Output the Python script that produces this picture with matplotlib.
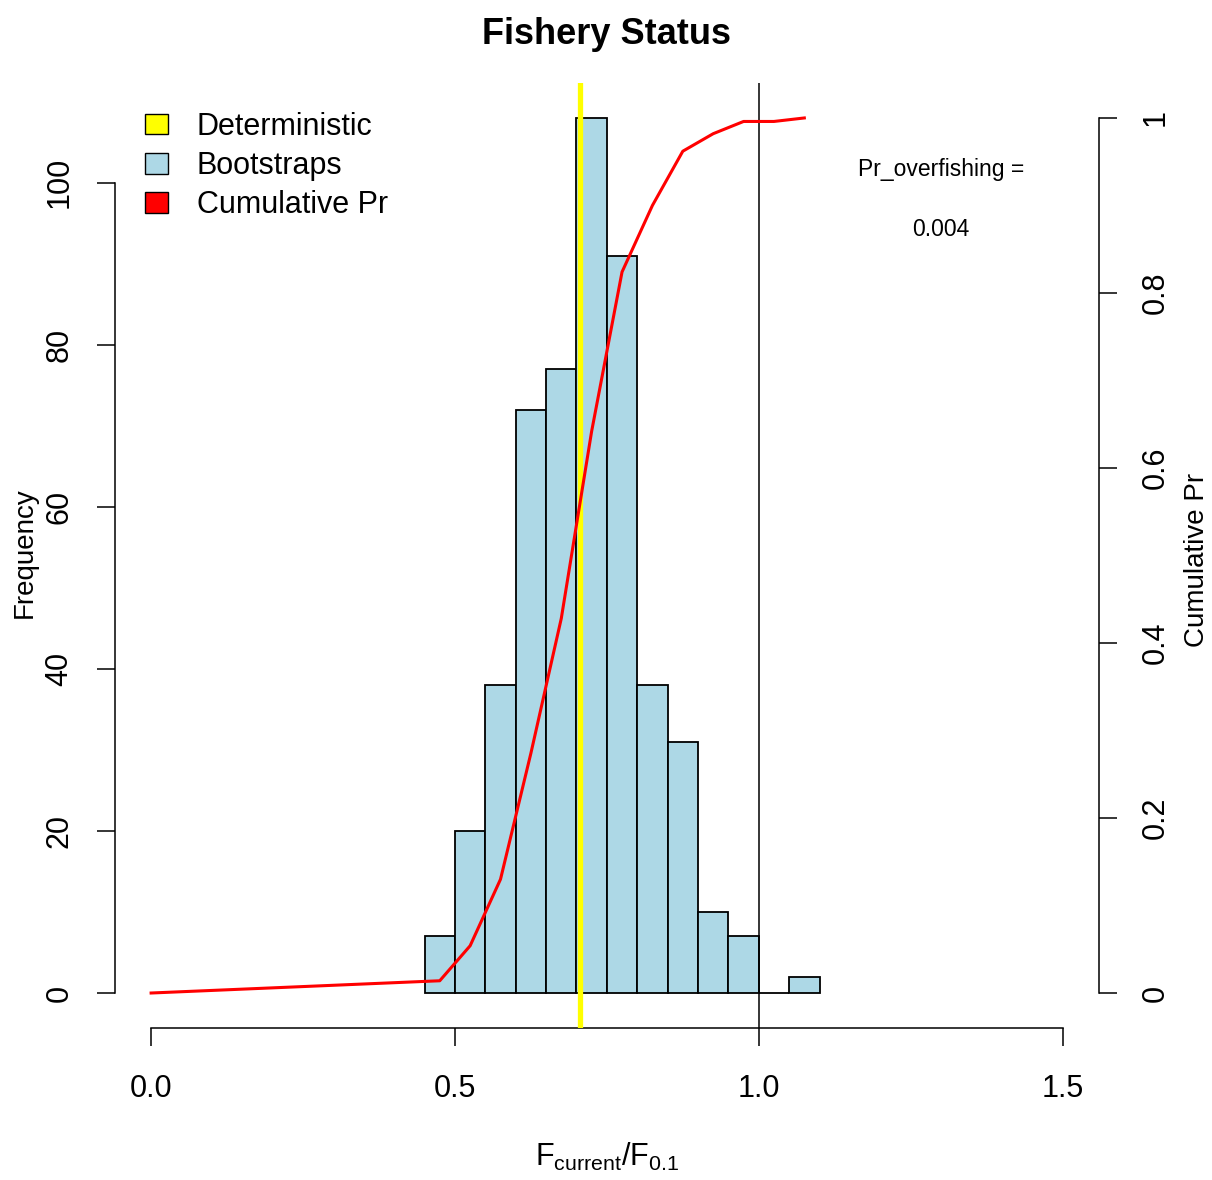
# Fishery status: bootstrap histogram of F_current/F_0.1 with cumulative probability
import matplotlib
matplotlib.use("Agg")
import matplotlib.pyplot as plt
from matplotlib.patches import Patch

plt.rcParams['font.family'] = ['Liberation Sans', 'DejaVu Sans']
plt.rcParams['mathtext.fontset'] = 'custom'
plt.rcParams['mathtext.rm'] = 'Liberation Sans'
plt.rcParams['mathtext.it'] = 'Liberation Sans'

# histogram bins (left edges, width 0.05) and counts
bin_left = [0.45, 0.50, 0.55, 0.60, 0.65, 0.70, 0.75, 0.80, 0.85, 0.90, 0.95, 1.00, 1.05]
counts = [7, 20, 38, 72, 77, 108, 91, 38, 31, 10, 7, 0, 2]
bin_width = 0.05

# cumulative probability curve
cum_x = [0.0, 0.475, 0.525, 0.575, 0.625, 0.675, 0.725, 0.775, 0.825, 0.875, 0.925, 0.975, 1.025, 1.075]
cum_pr = [0.0, 0.014, 0.054, 0.130, 0.274, 0.428, 0.642, 0.824, 0.900, 0.962, 0.982, 0.996, 0.996, 1.0]

deterministic = 0.706
ref_point = 1.0
pr_overfishing = 0.004

xticks = [0.0, 0.5, 1.0, 1.5]
xtick_labels = ['0.0', '0.5', '1.0', '1.5']
yticks_left = [0, 20, 40, 60, 80, 100]
yticks_right = [0, 0.2, 0.4, 0.6, 0.8, 1.0]
yticks_right_labels = ['0', '0.2', '0.4', '0.6', '0.8', '1']

fig = plt.figure(figsize=(12.12, 11.8), dpi=100)
ax = fig.add_axes([0.0946, 0.1288, 0.8122, 0.8009])
ax2 = ax.twinx()

ax.bar(bin_left, counts, width=bin_width, align='edge', color='#ADD8E6',
       edgecolor='black', linewidth=1.3, zorder=2)
ax.axvline(deterministic, color='#FFFF00', linewidth=3.8, zorder=4)
ax.axvline(ref_point, color='black', linewidth=1.1, zorder=3)

ax2.plot(cum_x, cum_pr, color='#FF0000', linewidth=2.2, zorder=5)
ax2.text(1.3, 0.941, 'Pr_overfishing =', ha='center', va='center', fontsize=16.5)
ax2.text(1.3, 0.873, str(pr_overfishing), ha='center', va='center', fontsize=16.5)

ax.set_xlim(-0.06, 1.56)
ax.set_ylim(-4.32, 112.32)
ax2.set_ylim(-0.04, 1.04)

for a in (ax, ax2):
    a.spines['top'].set_visible(False)
    a.patch.set_visible(False)
ax.spines['right'].set_visible(False)
ax2.spines['left'].set_visible(False)
ax2.spines['bottom'].set_visible(False)
ax.spines['bottom'].set_bounds(0, 1.5)
ax.spines['left'].set_bounds(0, 100)
ax2.spines['right'].set_bounds(0, 1)
for s in ('bottom', 'left'):
    ax.spines[s].set_linewidth(1.1)
ax2.spines['right'].set_linewidth(1.1)

ax.set_xticks(xticks)
ax.set_xticklabels(xtick_labels)
ax.set_yticks(yticks_left)
ax2.set_yticks(yticks_right)
ax2.set_yticklabels(yticks_right_labels)

ax.tick_params(axis='x', length=13, width=1.1, labelsize=22, pad=20)
ax.tick_params(axis='y', length=13, width=1.1, labelsize=22, pad=16, labelrotation=90)
ax2.tick_params(axis='y', length=13, width=1.1, labelsize=22, pad=17, labelrotation=90)
for lbl in ax.get_yticklabels() + ax2.get_yticklabels():
    lbl.set_verticalalignment('center')

fig.text(0.5, 1 - 34 / 1180, 'Fishery Status', ha='center', va='center',
         fontsize=26, fontweight='bold')
fig.text(607 / 1212, 1 - 1166 / 1180, r'$\mathregular{F_{current}/F_{0.1}}$',
         ha='center', va='baseline', fontsize=22)
fig.text(25 / 1212, 1 - 553 / 1180, 'Frequency', rotation=90,
         ha='center', va='center', fontsize=20)
fig.text(1197 / 1212, 1 - 560 / 1180, 'Cumulative Pr', rotation=90,
         ha='center', va='center', fontsize=20)

handles = [Patch(facecolor='#FFFF00', edgecolor='black'),
           Patch(facecolor='#ADD8E6', edgecolor='black'),
           Patch(facecolor='#FF0000', edgecolor='black')]
fig.legend(handles, ['Deterministic', 'Bootstraps', 'Cumulative Pr'],
           loc='upper left', bbox_to_anchor=(145 / 1212, 1 - 112 / 1180),
           frameon=False, fontsize=22, handlelength=0.75, handleheight=0.65,
           handletextpad=0.95, labelspacing=0.3, borderpad=0, borderaxespad=0)

fig.savefig('out.png', dpi=100)
